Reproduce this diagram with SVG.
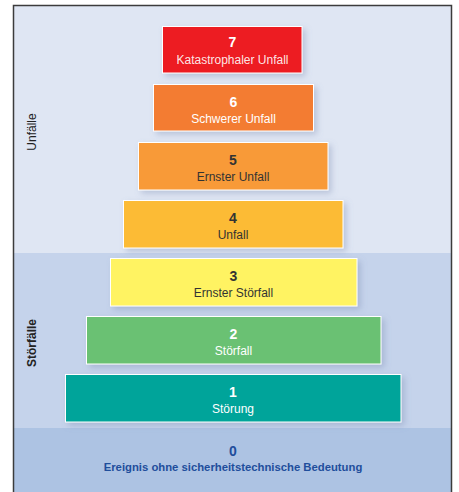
<svg xmlns="http://www.w3.org/2000/svg" width="459" height="492" viewBox="0 0 459 492">
  <defs>
    <filter id="softShadow" x="-10%" y="-20%" width="125%" height="150%">
      <feDropShadow dx="3" dy="3" stdDeviation="3" flood-color="#6f80a8" flood-opacity="0.35"/>
    </filter>
    <style>
      .box { stroke: #ffffff; stroke-width: 1; filter: url(#softShadow); }
      .num { font-family: "Liberation Sans", Arial, sans-serif; font-size: 14px; font-weight: bold; text-anchor: middle; }
      .lbl { font-family: "Liberation Sans", Arial, sans-serif; font-size: 12px; text-anchor: middle; }
      .light { fill: #ffffff; }
      .dark { fill: #333333; }
      .side { font-family: "Liberation Sans", Arial, sans-serif; font-size: 12px; fill: #222222; text-anchor: middle; }
      .base { font-family: "Liberation Sans", Arial, sans-serif; font-weight: bold; fill: #1f4e9c; text-anchor: middle; }
    </style>
  </defs>

  <!-- background bands -->
  <rect x="0" y="0" width="459" height="492" fill="#ffffff"/>
  <rect x="13" y="5" width="439" height="248" fill="#dfe6f3"/>
  <rect x="13" y="253" width="439" height="175" fill="#c5d3eb"/>
  <rect x="13" y="428" width="439" height="64" fill="#adc3e3"/>

  <!-- frame -->
  <path d="M13.5 492 V5.5 H451.5 V492" fill="none" stroke="#3c3c3c" stroke-width="1.5"/>

  <!-- side captions -->
  <text class="side" transform="translate(35.5 132) rotate(-90)">Unfälle</text>
  <text class="side" font-weight="bold" transform="translate(35.5 343) rotate(-90)">Störfälle</text>

  <g id="connectors"></g>

  <g id="level7">
    <rect class="box" x="162.5" y="26.5" width="139.5" height="46.5" fill="#ed1c24"/>
    <text class="num light" x="232.5" y="47">7</text>
    <text class="lbl light" x="232.5" y="63.5" fill-opacity="0.9">Katastrophaler Unfall</text>
  </g>

  <g id="level6">
    <rect class="box" x="153.5" y="84.5" width="160" height="46.5" fill="#f37b30"/>
    <text class="num light" x="233.5" y="107">6</text>
    <text class="lbl light" x="233.5" y="123">Schwerer Unfall</text>
  </g>

  <g id="level5">
    <rect class="box" x="138.5" y="142.5" width="189.5" height="47.5" fill="#f89a38"/>
    <text class="num dark" x="233" y="165">5</text>
    <text class="lbl dark" x="233" y="181">Ernster Unfall</text>
  </g>

  <g id="level4">
    <rect class="box" x="123.5" y="200.5" width="219.5" height="47.5" fill="#fcbb36"/>
    <text class="num dark" x="233" y="223">4</text>
    <text class="lbl dark" x="233" y="239">Unfall</text>
  </g>

  <g id="level3">
    <rect class="box" x="110.5" y="258.5" width="246.5" height="47.5" fill="#fff362"/>
    <text class="num dark" x="233.5" y="281">3</text>
    <text class="lbl dark" x="233.5" y="297">Ernster Störfall</text>
  </g>

  <g id="level2">
    <rect class="box" x="86.5" y="316.5" width="294.5" height="47.5" fill="#6ac173"/>
    <text class="num light" x="233.5" y="339">2</text>
    <text class="lbl light" x="233.5" y="355">Störfall</text>
  </g>

  <g id="level1">
    <rect class="box" x="65.5" y="374.5" width="335.5" height="47.5" fill="#04a49a"/>
    <text class="num light" x="233" y="397">1</text>
    <text class="lbl light" x="233" y="413">Störung</text>
  </g>

  <g id="level0">
    <text class="base" x="233" y="456" font-size="14">0</text>
    <text class="base" x="233" y="471" font-size="11.3">Ereignis ohne sicherheitstechnische Bedeutung</text>
  </g>
</svg>
